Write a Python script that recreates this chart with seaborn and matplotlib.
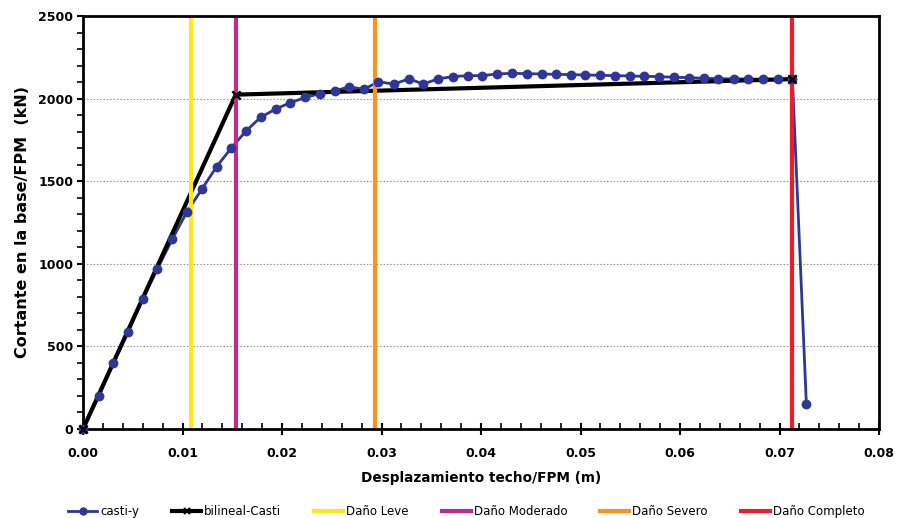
import numpy as np
import pandas as pd
import matplotlib
matplotlib.use("Agg")
import matplotlib.pyplot as plt
from matplotlib.lines import Line2D
from matplotlib.ticker import MultipleLocator, FormatStrFormatter
import seaborn as sns

# Pushover curve (roof displacement vs. base shear)
casti_x = [0.0000, 0.0016, 0.00305, 0.00455, 0.0060, 0.00747, 0.00898, 0.01045,
           0.01196, 0.01343, 0.0149, 0.01638, 0.01786, 0.01936, 0.02083, 0.02234,
           0.0238, 0.0253, 0.02676, 0.02824, 0.02968, 0.03126, 0.03276, 0.0342,
           0.0357, 0.0372, 0.03866, 0.0401, 0.0416, 0.0431, 0.0446, 0.0461,
           0.0475, 0.0490, 0.0505, 0.0520, 0.0535, 0.0550, 0.0564, 0.0579,
           0.0594, 0.0609, 0.0624, 0.0638, 0.0654, 0.0668, 0.0683, 0.0698,
           0.0713, 0.0727]
casti_v = [0, 200, 397, 589, 787, 968, 1150, 1315,
           1453, 1588, 1701, 1804, 1887, 1937, 1975, 2007,
           2030, 2046, 2072, 2056, 2102, 2088, 2120, 2088,
           2120, 2133, 2139, 2139, 2149, 2153, 2151, 2149,
           2147, 2145, 2143, 2141, 2139, 2137, 2135, 2133,
           2129, 2127, 2123, 2121, 2119, 2119, 2117, 2117,
           2117, 151]

# Bilinear idealisation
bilin_x = [0.0, 0.01535, 0.07126]
bilin_v = [0, 2024, 2118]

# Damage state thresholds (displacement, m)
damage_labels = ["Daño Leve", "Daño Moderado", "Daño Severo", "Daño Completo"]
damage_x = [0.01082, 0.01538, 0.02938, 0.07128]
damage_colors = ["#FFE619", "#BE2A8E", "#F7941D", "#EC1C2A"]

blue = "#2E3696"

plt.rcParams["font.family"] = ["DejaVu Sans"]

fig = plt.figure(figsize=(8.97, 5.18), dpi=100)
ax = fig.add_axes([83 / 897, 1 - 429 / 518, (879 - 83) / 897, (429 - 16) / 518])

df_c = pd.DataFrame({"x": casti_x, "v": casti_v})
df_b = pd.DataFrame({"x": bilin_x, "v": bilin_v})

# connecting lines first, then threshold lines, then markers on top
sns.lineplot(data=df_c, x="x", y="v", ax=ax, sort=False, estimator=None,
             color=blue, lw=2.0, zorder=2)
sns.lineplot(data=df_b, x="x", y="v", ax=ax, sort=False, estimator=None,
             color="black", lw=3.0, zorder=2.5)

for xv, col in zip(damage_x, damage_colors):
    ax.axvline(xv, color=col, lw=3.0, zorder=3)

sns.scatterplot(data=df_c, x="x", y="v", ax=ax, color=blue, s=50,
                marker="o", linewidth=0, zorder=7, clip_on=False)
sns.scatterplot(data=df_b, x="x", y="v", ax=ax, color="black", s=36,
                marker="x", linewidth=1.8, zorder=8, clip_on=False)

ax.set_xlim(0, 0.08)
ax.set_ylim(0, 2500)
ax.xaxis.set_major_locator(MultipleLocator(0.01))
ax.xaxis.set_minor_locator(MultipleLocator(0.002))
ax.xaxis.set_major_formatter(FormatStrFormatter("%.2f"))
ax.yaxis.set_major_locator(MultipleLocator(500))
ax.yaxis.set_minor_locator(MultipleLocator(100))

ax.grid(axis="y", which="major", linestyle=(0, (1.5, 1.5)), color="#9a9a9a", lw=0.8)
ax.set_axisbelow(True)

for sp in ax.spines.values():
    sp.set_linewidth(2.0)
    sp.set_color("black")
    sp.set_zorder(6)

ax.tick_params(axis="x", which="major", direction="inout", length=8, width=1.5,
               labelsize=9, pad=9)
ax.tick_params(axis="x", which="minor", direction="in", length=4, width=1.2)
ax.tick_params(axis="y", which="major", direction="out", length=4, width=1.5,
               labelsize=9, pad=3)
ax.tick_params(axis="y", which="minor", direction="out", length=4, width=1.2)
for lab in ax.get_xticklabels() + ax.get_yticklabels():
    lab.set_fontweight("bold")

ax.set_xlabel("Desplazamiento techo/FPM (m)", fontsize=9.8, fontweight="bold", labelpad=8)
ax.set_ylabel("Cortante en la base/FPM  (kN)", fontsize=11.5, fontweight="bold", labelpad=6)

handles = [
    Line2D([], [], color=blue, lw=2.0, marker="o", markersize=6, markeredgewidth=0),
    Line2D([], [], color="black", lw=3.0, marker="x", markersize=5, markeredgewidth=1.5),
]
handles += [Line2D([], [], color=c, lw=3.0) for c in damage_colors]
labels = ["casti-y", "bilineal-Casti"] + damage_labels
fig.legend(handles, labels, loc="lower center", bbox_to_anchor=(0.52, -0.02),
           ncol=6, frameon=False, fontsize=8.5, handlelength=2.45,
           handletextpad=0.25, columnspacing=2.8)

fig.savefig("out.png", dpi=100)
